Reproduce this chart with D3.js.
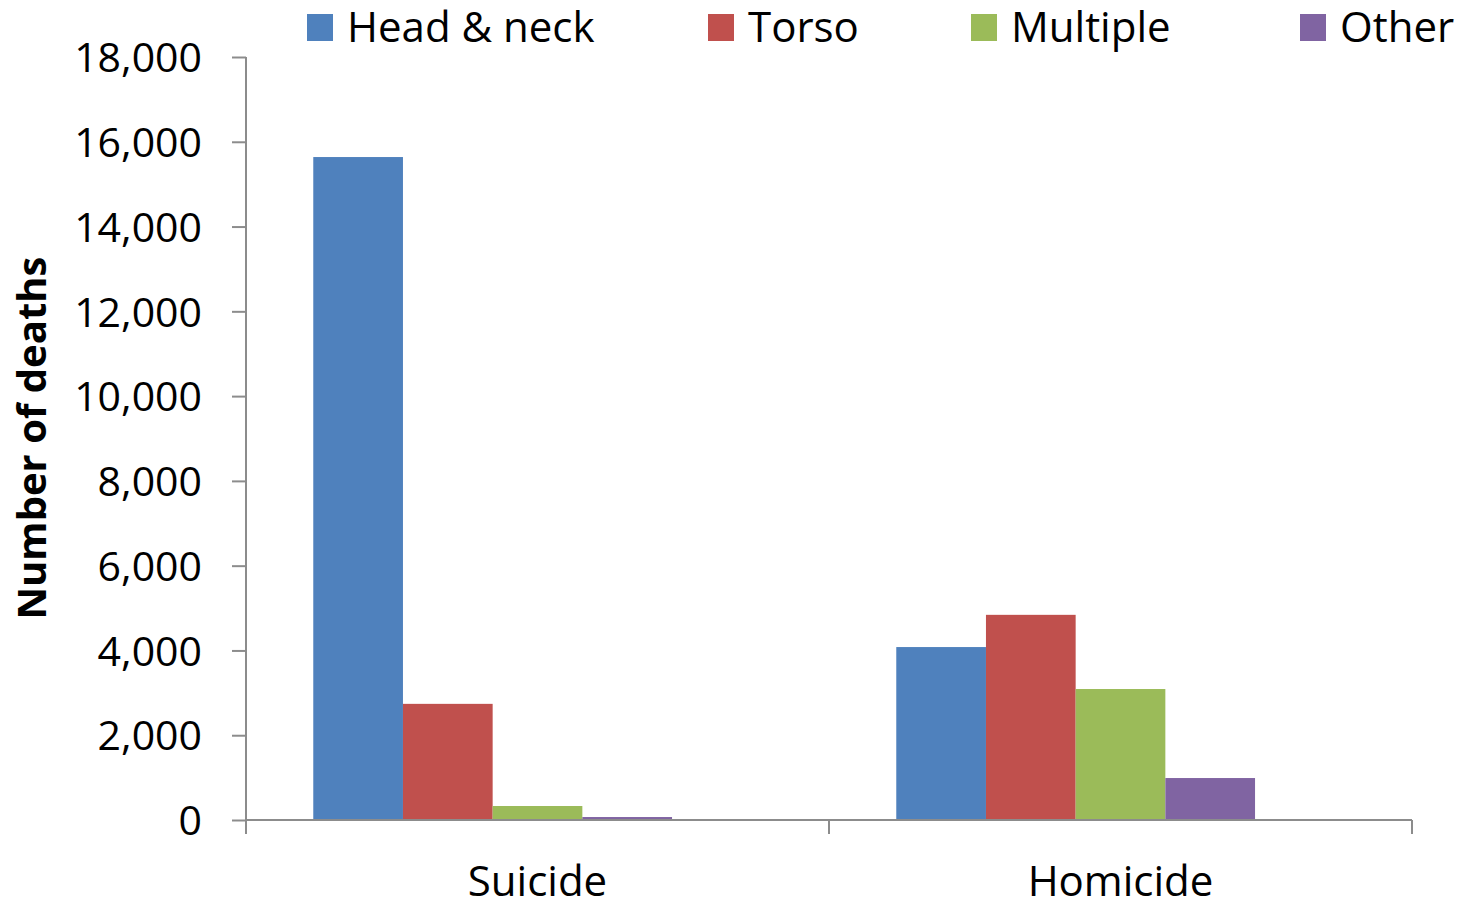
<!DOCTYPE html>
<html>
<head>
<meta charset="utf-8"/>
<title>Firearm deaths by wound site</title>
<script src="https://d3js.org/d3.v7.min.js"></script>
<style>
    body { margin: 0; background: #fff; }
    svg { display: block; font-family: "Open Sans", sans-serif; }
    .axis path, .axis line { stroke: #8c8c8c; stroke-width: 2px; }
    .axis text { fill: #000; font-size: 41px; font-family: "Open Sans", sans-serif; }
</style>
</head>
<body>
<div id="chart"></div>
<script>
    var categories = ["Suicide", "Homicide"];
    var seriesNames = ["Head & neck", "Torso", "Multiple", "Other"];
    var seriesColors = ["#4F81BD", "#C0504D", "#9BBB59", "#8064A2"];
    // values per series, one per category
    var headNeck = [15640, 4080];
    var torso = [2740, 4840];
    var multiple = [330, 3090];
    var other = [70, 990];
    var yTicks = [0, 2000, 4000, 6000, 8000, 10000, 12000, 14000, 16000, 18000];
    var legendX = [307, 708, 971, 1300];

    var values = [headNeck, torso, multiple, other];

    var width = 1458, height = 902;
    var x0 = 246, x1 = 1412, yTop = 57, yBottom = 820;

    var svg = d3.select("#chart").append("svg")
        .attr("width", width)
        .attr("height", height);

    var x = d3.scaleBand()
        .domain(categories)
        .range([x0, x1]);

    // excel-like cluster: 5 slots (last one empty), gap = 1.5 bar widths
    var slots = 5, gap = 1.5;
    var barW = x.bandwidth() / (slots + gap);
    var xs = d3.scaleBand()
        .domain(d3.range(slots))
        .range([barW * gap / 2, barW * gap / 2 + barW * slots]);

    var y = d3.scaleLinear()
        .domain([0, 18000])
        .range([yBottom, yTop]);

    // bars
    seriesNames.forEach(function(name, s){
        svg.append("g")
            .selectAll("rect")
            .data(values[s])
            .enter()
            .append("rect")
            .attr("x", function(d, i){ return x(categories[i]) + xs(s); })
            .attr("y", function(d){ return y(d); })
            .attr("width", xs.bandwidth())
            .attr("height", function(d){ return yBottom - y(d); })
            .attr("fill", seriesColors[s]);
    });

    // y axis
    var yAxis = d3.axisLeft(y)
        .tickValues(yTicks)
        .tickSize(14)
        .tickPadding(30)
        .tickFormat(d3.format(","));
    var gy = svg.append("g")
        .attr("class", "axis")
        .attr("transform", "translate(" + x0 + ",0)")
        .call(yAxis)
        .attr("font-family", null)
        .attr("font-size", null);
    gy.select(".domain").attr("d", "M0," + yTop + "V" + yBottom);
    gy.selectAll("text").attr("dy", "0.36em");

    // x axis
    var gx = svg.append("g")
        .attr("class", "axis")
        .attr("transform", "translate(0," + yBottom + ")");
    gx.append("line")
        .attr("x1", x0).attr("x2", x1)
        .attr("y1", 0).attr("y2", 0);
    var bounds = [x0].concat(categories.map(function(c){ return x(c) + x.bandwidth(); }));
    gx.selectAll(".tk")
        .data(bounds)
        .enter()
        .append("line")
        .attr("x1", function(d){ return d; })
        .attr("x2", function(d){ return d; })
        .attr("y1", 0).attr("y2", 14);
    gx.selectAll(".cat")
        .data(categories)
        .enter()
        .append("text")
        .attr("x", function(d){ return x(d) + x.bandwidth() / 2; })
        .attr("y", 76)
        .attr("text-anchor", "middle")
        .style("font-size", "42px")
        .text(function(d){ return d; });

    // y title
    svg.append("text")
        .attr("transform", "translate(46,438) rotate(-90)")
        .attr("text-anchor", "middle")
        .style("font-size", "40px")
        .style("font-weight", "bold")
        .text("Number of deaths");

    // legend
    var lg = svg.append("g").selectAll("g")
        .data(seriesNames)
        .enter()
        .append("g")
        .attr("transform", function(d, i){ return "translate(" + legendX[i] + ",0)"; });
    lg.append("rect")
        .attr("x", 0).attr("y", 14)
        .attr("width", 26).attr("height", 27)
        .attr("fill", function(d, i){ return seriesColors[i]; });
    lg.append("text")
        .attr("x", 40).attr("y", 42)
        .style("font-size", "42px")
        .text(function(d){ return d; });
</script>
</body>
</html>
